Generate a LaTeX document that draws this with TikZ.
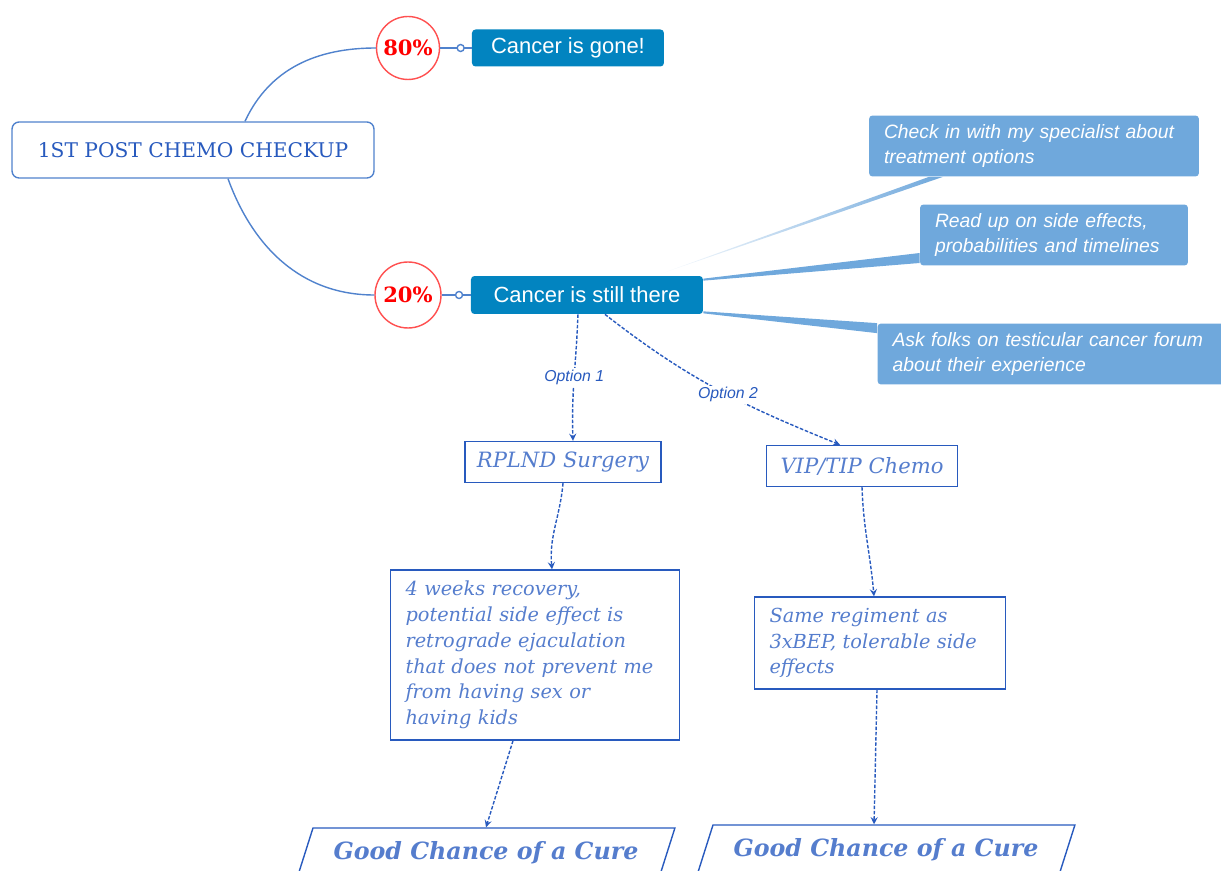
\documentclass[tikz,border=0pt]{standalone}
\usepackage{fontspec}
\setmainfont{DejaVu Serif}
\setsansfont{Liberation Sans}
\usepackage{tikz}
\usetikzlibrary{arrows,shapes,positioning}
\usepackage{xcolor}
\definecolor{mmblue}{RGB}{2,132,192}
\definecolor{mmlight}{RGB}{111,168,220}
\definecolor{mmline}{RGB}{80,130,205}
\definecolor{mmdash}{RGB}{40,90,190}
\definecolor{mmtext}{RGB}{85,125,205}
\definecolor{mmred}{RGB}{255,80,80}
\tikzstyle{link} = [thick, color=mmline]
\tikzstyle{optarrow} = [thick, ->, >=stealth, color=mmdash, dash pattern=on 2pt off 1pt]
\tikzstyle{optlabel} = [fill=white, inner sep=1pt, text=mmdash, font=\sffamily\itshape\fontsize{9}{10}\selectfont]
\tikzstyle{topic} = [rectangle, rounded corners=4pt, draw=mmline, thick, fill=white, minimum width=7.24cm, minimum height=1.12cm, text=mmdash, font=\fontsize{11.5}{14}\selectfont]
\tikzstyle{pct} = [circle, draw=mmred, thick, fill=white, minimum size=1.26cm, inner sep=0pt, text=red, font=\bfseries\fontsize{12}{14}\selectfont]
\tikzstyle{branch} = [rectangle, rounded corners=2pt, fill=mmblue, text=white, minimum height=0.76cm, font=\sffamily\fontsize{12.5}{14}\selectfont]
\tikzstyle{note} = [rectangle, rounded corners=2pt, fill=mmlight, text=white, minimum height=1.22cm, inner xsep=0.3cm, align=left, font=\sffamily\itshape\fontsize{11}{14}\selectfont]
\tikzstyle{choice} = [rectangle, draw=mmdash, thick, minimum height=0.82cm, text=mmtext, font=\itshape\fontsize{12}{14}\selectfont]
\tikzstyle{detail} = [rectangle, draw=mmdash, thick, inner xsep=0.3cm, align=left, text=mmtext, font=\itshape\fontsize{11}{14.7}\selectfont]
\tikzstyle{outcome} = [trapezium, trapezium left angle=67, trapezium right angle=113, trapezium stretches=true, draw=mmdash, thick, minimum width=7.56cm, minimum height=1cm, text=mmtext, font=\bfseries\itshape\fontsize{13.5}{15}\selectfont]
\tikzstyle{dot} = [circle, draw=mmline, fill=white, thick, minimum size=0.14cm, inner sep=0pt]

\begin{document}
\begin{tikzpicture}[x=0.02cm, y=-0.02cm]
\clip (0,0) rectangle (1221,871);

% Root topic
\node (root) [topic] at (193,150) {1ST POST CHEMO CHECKUP};

% Percentages
\node (p80) [pct] at (408,48) {80\%};
\node (p20) [pct, minimum size=1.32cm] at (408,295) {20\%};

% Outcomes
\node (gone) [branch, right of=p80, node distance=3.2cm, minimum width=3.84cm, minimum height=0.74cm] {Cancer is gone!};
\node (still) [branch, right of=p20, node distance=3.58cm, minimum width=4.64cm] {Cancer is still there};

\draw[link] ([xshift=1.04cm]root.north) to[out=65, in=180] (p80.west);
\draw[link] ([xshift=0.7cm]root.south) to[out=-70, in=180] (p20.west);
\draw[link] (p80.east) -- (gone.west) node[dot, pos=0.65] {};
\draw[link] (p20.east) -- (still.west) node[dot, pos=0.6] {};

% Callouts
\node (chk) [note, text width=6.0cm] at (1034,146) {Check in with my specialist about\\treatment options};
\node (read) [note, text width=4.76cm] at (1054,235) {Read up on side effects,\\probabilities and timelines};
\node (ask) [note, text width=6.54cm] at (1056,354) {Ask folks on testicular cancer forum\\about their experience};

\shade[left color=white, right color=mmlight] ([xshift=-0.96cm]still.north east) -- ([xshift=-2.1cm]chk.south) -- ([xshift=-1.82cm]chk.south) -- cycle;
\fill[mmlight] ([yshift=-0.06cm]still.north east) -- ([yshift=-0.36cm]read.west) -- ([yshift=-0.56cm]read.west) -- ([yshift=-0.1cm]still.north east) -- cycle;
\fill[mmlight] ([yshift=0.06cm]still.south east) -- (ask.north west) -- ([yshift=-0.2cm]ask.north west) -- ([yshift=0.02cm]still.south east) -- cycle;

% Options
\node (rplnd) [choice, minimum width=3.92cm] at (563,462) {RPLND Surgery};
\node (vip) [choice, minimum width=3.82cm] at (862,466) {VIP/TIP Chemo};

\draw[optarrow] ([xshift=-0.18cm]still.south) to[out=-92, in=92] node[optlabel] {Option 1} ([xshift=0.2cm]rplnd.north);
\draw[optarrow] ([xshift=0.36cm]still.south) to[out=-38, in=158] node[optlabel, pos=0.55] {Option 2} ([xshift=-0.44cm]vip.north);

% Details
\node (rec) [detail, text width=5.18cm, minimum height=3.4cm] at (535,655) {4 weeks recovery,\\potential side effect is\\retrograde ejaculation\\that does not prevent me\\from having sex or\\having kids};
\node (same) [detail, text width=4.42cm, minimum height=1.84cm] at (880,643) {Same regiment as\\3xBEP, tolerable side\\effects};

\draw[optarrow] (rplnd.south) to[out=-95, in=95] ([xshift=0.34cm]rec.north);
\draw[optarrow] (vip.south) to[out=-88, in=95] ([xshift=-0.12cm]same.north);

% Cure
\node (cure1) [outcome] at (486,853) {Good Chance of a Cure};
\node (cure2) [outcome] at (886,850) {Good Chance of a Cure};

\draw[optarrow] ([xshift=-0.44cm]rec.south) -- (cure1.north);
\draw[optarrow] ([xshift=-0.06cm]same.south) -- ([xshift=-0.24cm]cure2.north);
\end{tikzpicture}
\end{document}
